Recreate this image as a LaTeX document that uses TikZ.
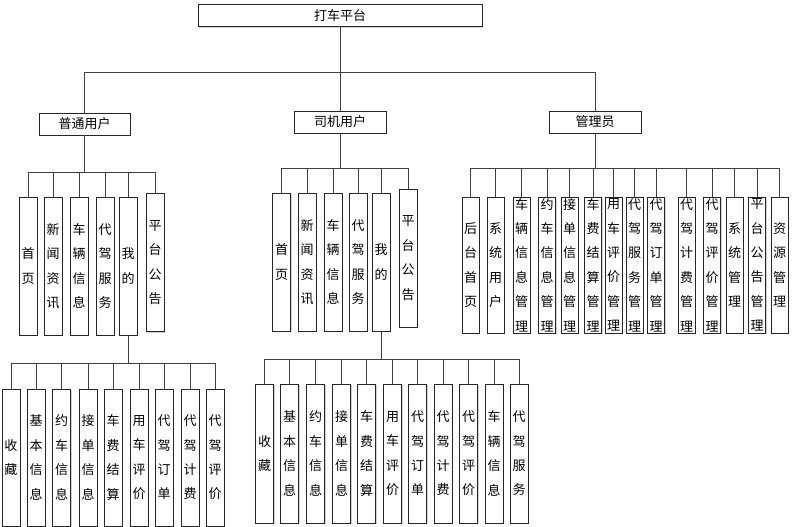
\documentclass[tikz,border=0pt]{standalone}
\usepackage{fontspec}
\newfontfamily\cjk{Noto Sans CJK SC}
\usetikzlibrary{shadows}

\begin{document}
\begin{tikzpicture}[x=1pt,y=-1pt,
  box/.style={draw=black!85,line width=0.9pt,fill=white,inner sep=0pt,
    drop shadow={shadow xshift=1.2pt,shadow yshift=-1.2pt,fill=black!18,opacity=1},
    font=\cjk\fontsize{13}{24.4}\selectfont},
  hbox/.style={box,minimum height=22pt},
  vbox/.style={box,minimum width=18pt,minimum height=138pt,align=center},
  link/.style={draw=black!75,line width=0.9pt}]
  \useasboundingbox (0,0) rectangle (792,527);

  % top and second level
  \node[hbox,minimum width=284pt] (top) at (340,15.5) {打车平台};
  \node[hbox,minimum width=91pt] (u) at (84.5,124) {普通用户};
  \node[hbox,minimum width=92pt] (d) at (340,122) {司机用户};
  \node[hbox,minimum width=92pt] (a) at (595,122) {管理员};

  % 普通用户
  \foreach \x/\t [count=\i] in {28/{首\\页},53/{新\\闻\\资\\讯},79/{车\\辆\\信\\息},
      105/{代\\驾\\服\\务},128/{我\\的}}
    \node[vbox] (u\i) at (\x,266) {\t};
  \node[vbox] (u6) at (155,262.5) {平\\台\\公\\告};

  % 司机用户
  \foreach \x/\t [count=\i] in {281.5/{首\\页},307/{新\\闻\\资\\讯},333/{车\\辆\\信\\息},
      358/{代\\驾\\服\\务},381/{我\\的}}
    \node[vbox] (d\i) at (\x,262) {\t};
  \node[vbox] (d6) at (408,258) {平\\台\\公\\告};

  % 管理员
  \foreach \x/\t [count=\i] in {470.5/{后\\台\\首\\页},495.5/{系\\统\\用\\户},
      521.5/{车\\辆\\信\\息\\管\\理},547/{约\\车\\信\\息\\管\\理},
      569.5/{接\\单\\信\\息\\管\\理},593/{车\\费\\结\\算\\管\\理},
      613.5/{用\\车\\评\\价\\管\\理},634.5/{代\\驾\\服\\务\\管\\理},
      656/{代\\驾\\订\\单\\管\\理},686.5/{代\\驾\\计\\费\\管\\理},
      712/{代\\驾\\评\\价\\管\\理},734.5/{系\\统\\管\\理},
      757/{平\\台\\公\\告\\管\\理},779.5/{资\\源\\管\\理}}
    \node[vbox,minimum width=17pt,minimum height=136pt] (a\i) at (\x,265) {\t};

  % 普通用户 -> 我的
  \foreach \x/\t [count=\i] in {11/{收\\藏},36/{基\\本\\信\\息},61.5/{约\\车\\信\\息},
      88/{接\\单\\信\\息},113/{车\\费\\结\\算},139/{用\\车\\评\\价},
      164/{代\\驾\\订\\单},190/{代\\驾\\计\\费},215/{代\\驾\\评\\价}}
    \node[vbox,minimum height=137pt] (um\i) at (\x,457.5) {\t};

  % 司机用户 -> 我的
  \foreach \x/\t [count=\i] in {264.5/{收\\藏},289.5/{基\\本\\信\\息},315.5/{约\\车\\信\\息},
      341.5/{接\\单\\信\\息},366.5/{车\\费\\结\\算},392.5/{用\\车\\评\\价},
      417.5/{代\\驾\\订\\单},443/{代\\驾\\计\\费},468.5/{代\\驾\\评\\价},
      494/{车\\辆\\信\\息},519/{代\\驾\\服\\务}}
    \node[vbox,minimum height=139pt] (dm\i) at (\x,453.5) {\t};

  % connectors
  \coordinate (b0) at (340,72);
  \coordinate (ub) at (84.5,172);
  \coordinate (db) at (340,168);
  \coordinate (ab) at (595,168);
  \coordinate (umb) at (128,363);
  \coordinate (dmb) at (381,359);

  \draw[link] (top) -- (b0);
  \foreach \n in {u,d,a}
    \draw[link] (b0) -| (\n.north);
  \draw[link] (u) -- (ub);
  \foreach \i in {1,...,6}
    \draw[link] (ub) -| (u\i.north);
  \draw[link] (d) -- (db);
  \foreach \i in {1,...,6}
    \draw[link] (db) -| (d\i.north);
  \draw[link] (a) -- (ab);
  \foreach \i in {1,...,14}
    \draw[link] (ab) -| (a\i.north);
  \draw[link] (u5) -- (umb);
  \foreach \i in {1,...,9}
    \draw[link] (umb) -| (um\i.north);
  \draw[link] (d5) -- (dmb);
  \foreach \i in {1,...,11}
    \draw[link] (dmb) -| (dm\i.north);
\end{tikzpicture}
\end{document}
